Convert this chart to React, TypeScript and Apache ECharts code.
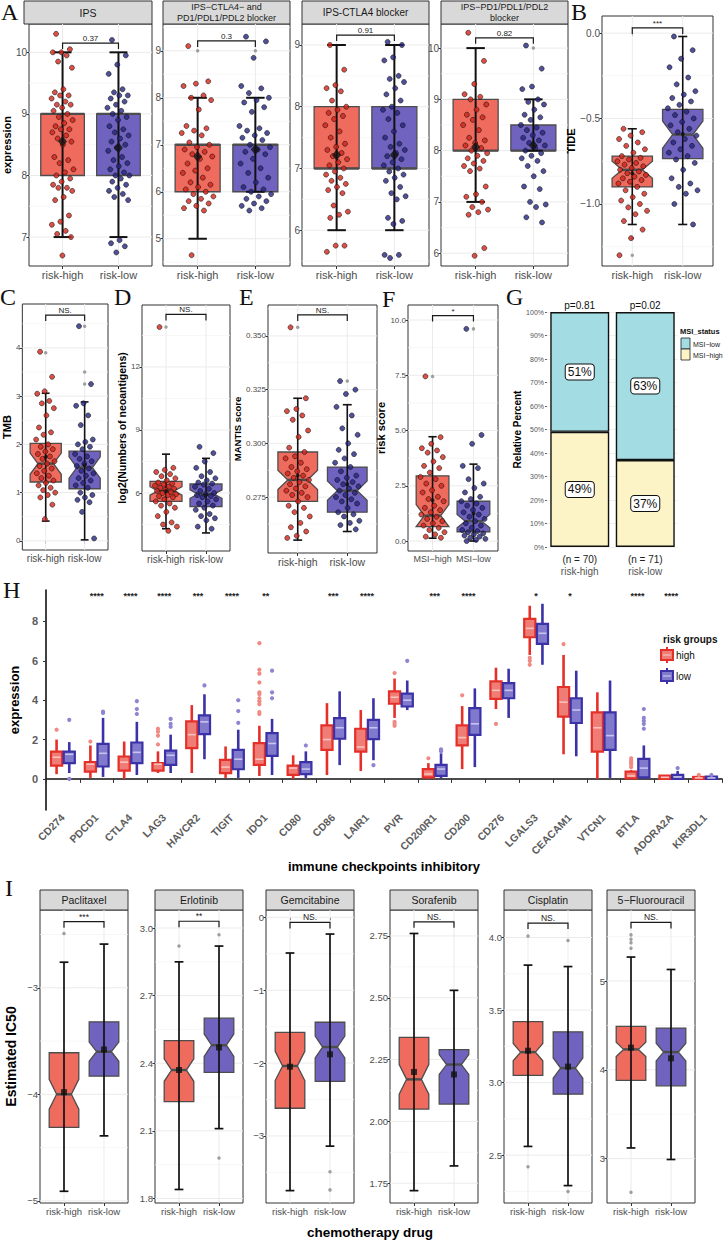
import React, { useEffect, useRef } from "react";
import * as echarts from "echarts";

const FONT = "'Liberation Sans', Arial, Helvetica, sans-serif";
const SERIF = "'Liberation Serif', 'Times New Roman', serif";

// ================= DATA =================
const RISK = ["risk-high", "risk-low"];
const MSI = ["MSI\u2212high", "MSI\u2212low"];

// ---- A: IPS panels ([min, q1, median, q3, max] for risk-high, risk-low) ----
const IPS_STATS = [[7, 8, 9, 9, 10], [7, 8, 9, 9, 10]];
const IPS_MEAN = [8.55, 8.45];
const IPS_OUT = [[], []];
const IPS_HIGH = [10.3, 10.05, 10.0, 10.0, 9.95, 9.85, 9.75, 9.4, 9.35, 9.3, 9.3, 9.25, 9.2, 9.15, 9.15, 9.1, 9.05, 9.0, 8.95, 8.9, 8.85, 8.8, 8.75, 8.75, 8.7, 8.65, 8.6, 8.55, 8.5, 8.3, 8.25, 8.2, 8.1, 8.05, 8.0, 7.95, 7.9, 7.85, 7.8, 7.8, 7.75, 7.65, 7.6, 7.35, 7.25, 7.2, 7.1, 7.05, 7.0, 6.7];
const IPS_LOW = [10.2, 9.95, 9.8, 9.65, 9.4, 9.35, 9.3, 9.3, 9.25, 9.2, 9.15, 9.1, 9.05, 9.0, 8.95, 8.9, 8.8, 8.75, 8.7, 8.65, 8.6, 8.55, 8.5, 8.45, 8.4, 8.3, 8.25, 8.2, 8.15, 8.1, 8.05, 8.0, 8.0, 7.95, 7.9, 7.85, 7.8, 7.75, 7.7, 7.65, 7.6, 6.95, 6.9, 6.85, 6.75];

const CTLA_PD_STATS = [[5, 6, 7, 7, 8], [6, 6, 7, 7, 8]];
const CTLA_PD_MEAN = [6.75, 6.9];
const CTLA_PD_OUT = [[9], [9]];
const CTLA_PD_HIGH = [9.1, 8.35, 8.3, 8.25, 8.05, 8.0, 7.95, 7.75, 7.4, 7.35, 7.3, 7.25, 7.2, 7.05, 7.0, 6.95, 6.9, 6.85, 6.8, 6.75, 6.7, 6.6, 6.5, 6.45, 6.4, 6.3, 6.2, 6.15, 6.1, 6.05, 6.0, 5.95, 5.9, 5.85, 5.8, 5.75, 5.7, 5.65, 5.6, 4.65];
const CTLA_PD_LOW = [9.3, 9.2, 8.85, 8.25, 8.2, 8.1, 8.0, 7.95, 7.9, 7.8, 7.7, 7.4, 7.35, 7.3, 7.25, 7.2, 7.15, 7.1, 7.0, 6.95, 6.9, 6.85, 6.8, 6.7, 6.6, 6.5, 6.4, 6.3, 6.2, 6.1, 6.05, 6.0, 5.95, 5.9, 5.85, 5.8, 5.75, 5.7, 5.65, 5.6];

const CTLA_STATS = [[6, 7, 7, 8, 9], [6, 7, 7, 8, 9]];
const CTLA_MEAN = [7.22, 7.22];
const CTLA_OUT = [[], []];
const CTLA_HIGH = [9.0, 8.6, 8.35, 8.3, 8.25, 8.1, 8.0, 7.95, 7.9, 7.85, 7.8, 7.7, 7.6, 7.5, 7.4, 7.35, 7.3, 7.25, 7.2, 7.15, 7.1, 7.05, 7.0, 6.95, 6.9, 6.85, 6.8, 6.75, 6.7, 6.65, 6.6, 6.4, 6.3, 6.25, 6.2, 5.75, 5.75, 5.65];
const CTLA_LOW = [9.05, 9.0, 8.8, 8.75, 8.5, 8.45, 8.4, 8.3, 8.2, 8.1, 8.0, 7.95, 7.9, 7.8, 7.7, 7.6, 7.5, 7.4, 7.35, 7.3, 7.25, 7.2, 7.15, 7.1, 7.05, 7.0, 6.95, 6.9, 6.85, 6.8, 6.7, 6.6, 6.55, 6.5, 6.2, 6.15, 6.1, 5.6, 5.6, 5.55];

const PD_STATS = [[7, 8, 8, 9, 10], [8, 8, 8, 8.5, 9]];
const PD_MEAN = [8.07, 8.1];
const PD_OUT = [[], [10]];
const PD_HIGH = [10.3, 9.75, 9.3, 9.1, 9.05, 9.0, 8.9, 8.8, 8.7, 8.65, 8.6, 8.5, 8.4, 8.25, 8.2, 8.15, 8.1, 8.05, 8.0, 7.95, 7.9, 7.85, 7.8, 7.75, 7.7, 7.65, 7.6, 7.3, 7.15, 7.1, 7.0, 6.9, 6.85, 6.8, 6.75, 6.1, 5.95];
const PD_LOW = [10.05, 9.6, 9.25, 9.2, 9.0, 8.95, 8.9, 8.8, 8.7, 8.65, 8.6, 8.5, 8.45, 8.4, 8.35, 8.3, 8.25, 8.2, 8.15, 8.1, 8.05, 8.0, 7.95, 7.9, 7.85, 7.8, 7.7, 7.6, 7.5, 7.3, 7.25, 7.0, 6.95, 6.9, 6.7, 6.6];

// ---- B: TIDE ----
const TIDE_STATS = [[-1.12, -0.9, -0.8, -0.72, -0.56], [-1.12, -0.735, -0.594, -0.447, -0.02]];
const TIDE_NOTCH = [0.05, 0.08];
const TIDE_MEAN = [-0.82, -0.59];
const TIDE_OUT = [[-1.2, -1.3], []];
const TIDE_HIGH = [-0.56, -0.58, -0.6, -0.62, -0.64, -0.66, -0.68, -0.7, -0.72, -0.73, -0.74, -0.75, -0.76, -0.77, -0.78, -0.79, -0.8, -0.81, -0.82, -0.83, -0.84, -0.85, -0.86, -0.87, -0.88, -0.9, -0.92, -0.94, -0.96, -0.98, -1.0, -1.02, -1.04, -1.06, -1.1, -1.15, -1.2, -1.3];
const TIDE_LOW = [-0.02, -0.1, -0.15, -0.2, -0.26, -0.3, -0.34, -0.36, -0.38, -0.4, -0.42, -0.44, -0.46, -0.48, -0.5, -0.52, -0.54, -0.56, -0.58, -0.6, -0.62, -0.64, -0.66, -0.68, -0.7, -0.72, -0.74, -0.76, -0.8, -0.85, -0.88, -0.9, -0.92, -0.94, -1.0, -1.12];

// ---- C: TMB ----
const TMB_STATS = [[0.41, 1.22, 1.6, 2.02, 3.06], [0.02, 1.08, 1.52, 1.86, 2.88]];
const TMB_NOTCH = [0.22, 0.22];
const TMB_MEAN = [1.74, 1.57];
const TMB_OUT = [[3.9], [4.45, 3.5, 3.25]];
const TMB_HIGH = [3.92, 3.4, 3.1, 3.05, 2.9, 2.85, 2.75, 2.6, 2.35, 2.25, 2.2, 2.1, 2.0, 1.95, 1.9, 1.85, 1.8, 1.75, 1.7, 1.65, 1.6, 1.55, 1.5, 1.45, 1.4, 1.35, 1.3, 1.25, 1.2, 1.15, 1.1, 1.05, 1.0, 0.95, 0.9, 0.75, 0.45];
const TMB_LOW = [4.45, 3.25, 2.85, 2.8, 2.6, 2.4, 2.1, 2.05, 2.0, 1.95, 1.9, 1.8, 1.75, 1.7, 1.65, 1.6, 1.55, 1.5, 1.45, 1.4, 1.35, 1.3, 1.25, 1.2, 1.15, 1.1, 1.0, 0.95, 0.9, 0.85, 0.8, 0.6, 0.05];

// ---- D: neoantigens ----
const NEO_STATS = [[4.3, 5.6, 6.1, 6.55, 7.85], [4.1, 5.35, 5.95, 6.43, 7.65]];
const NEO_NOTCH = [0.2, 0.2];
const NEO_MEAN = [6.1, 5.9];
const NEO_OUT = [[13.9], []];
const NEO_HIGH = [13.9, 7.2, 7.1, 7.0, 6.9, 6.8, 6.7, 6.6, 6.5, 6.45, 6.4, 6.35, 6.3, 6.25, 6.2, 6.15, 6.1, 6.05, 6.0, 5.95, 5.9, 5.85, 5.8, 5.7, 5.6, 5.5, 5.4, 5.3, 5.1, 4.9, 4.6, 4.5, 4.4, 4.2];
const NEO_LOW = [8.2, 7.9, 7.5, 7.2, 7.0, 6.8, 6.7, 6.6, 6.5, 6.45, 6.4, 6.3, 6.2, 6.1, 6.0, 5.95, 5.9, 5.85, 5.8, 5.7, 5.6, 5.5, 5.4, 5.3, 5.2, 5.0, 4.9, 4.8, 4.7, 4.4, 4.3];

// ---- E: MANTIS ----
const MANTIS_STATS = [[0.255, 0.273, 0.283, 0.296, 0.321], [0.259, 0.268, 0.278, 0.289, 0.318]];
const MANTIS_NOTCH = [0.0045, 0.0045];
const MANTIS_MEAN = [0.285, 0.281];
const MANTIS_OUT = [[0.354], [0.329]];
const MANTIS_HIGH = [0.354, 0.321, 0.316, 0.315, 0.313, 0.311, 0.306, 0.303, 0.298, 0.296, 0.294, 0.293, 0.291, 0.289, 0.288, 0.287, 0.286, 0.285, 0.284, 0.283, 0.282, 0.281, 0.28, 0.279, 0.278, 0.277, 0.276, 0.275, 0.273, 0.271, 0.27, 0.268, 0.266, 0.263, 0.261, 0.259, 0.257, 0.256];
const MANTIS_LOW = [0.329, 0.325, 0.323, 0.317, 0.313, 0.307, 0.304, 0.3, 0.297, 0.295, 0.293, 0.291, 0.289, 0.287, 0.285, 0.284, 0.283, 0.282, 0.281, 0.28, 0.279, 0.278, 0.277, 0.276, 0.275, 0.274, 0.273, 0.272, 0.27, 0.268, 0.267, 0.266, 0.264, 0.263, 0.262, 0.26];

// ---- F: risk score by MSI ----
const RS_STATS = [[0.13, 0.65, 1.15, 2.95, 4.72], [0, 0.42, 0.9, 1.8, 3.48]];
const RS_NOTCH = [0.5, 0.3];
const RS_MEAN = [1.85, 1.25];
const RS_OUT = [[7.45], [9.6]];
const RS_HIGH = [7.45, 4.7, 4.4, 4.2, 4.1, 4.0, 3.8, 3.6, 3.4, 3.3, 3.1, 2.9, 2.8, 2.6, 2.5, 2.3, 2.2, 2.0, 1.9, 1.8, 1.6, 1.5, 1.4, 1.3, 1.2, 1.1, 1.0, 0.9, 0.8, 0.7, 0.6, 0.5, 0.4, 0.3, 0.2, 0.15];
const RS_LOW = [9.6, 4.8, 4.4, 3.4, 3.3, 2.8, 2.6, 2.4, 2.2, 2.0, 1.9, 1.8, 1.7, 1.6, 1.5, 1.4, 1.3, 1.2, 1.1, 1.0, 0.9, 0.8, 0.7, 0.6, 0.5, 0.45, 0.4, 0.35, 0.3, 0.25, 0.2, 0.15, 0.1, 0.05, 0.0];

// ---- G: MSI status share ----
const G_N = ["(n = 70)", "(n = 71)"];
const G_MSI_HIGH = [0.49, 0.37];
const G_MSI_LOW = [0.51, 0.63];
const G_P = ["p=0.81", "p=0.02"];

// ---- H: immune checkpoints ----
const GENES = ["CD274", "PDCD1", "CTLA4", "LAG3", "HAVCR2", "TIGIT", "IDO1", "CD80", "CD86", "LAIR1", "PVR", "CD200R1", "CD200", "CD276", "LGALS3", "CEACAM1", "VTCN1", "BTLA", "ADORA2A", "KIR3DL1"];
const H_SIG = ["", "****", "****", "****", "***", "****", "**", "", "***", "****", "", "***", "****", "", "*", "*", "", "****", "****", ""];
const H_HIGH = [
  [0.24, 0.68, 1.1, 1.39, 2.0], [0.05, 0.37, 0.75, 0.85, 1.7], [0.0, 0.42, 0.85, 1.14, 1.9], [0.3, 0.42, 0.75, 0.8, 1.4],
  [0.3, 1.56, 2.25, 2.92, 3.75], [0.05, 0.29, 0.6, 0.97, 1.65], [0.15, 0.71, 1.0, 1.82, 2.7], [0.0, 0.2, 0.55, 0.68, 1.2],
  [0.2, 1.48, 2.0, 2.72, 3.85], [0.4, 1.39, 1.62, 2.55, 3.5], [3.1, 3.82, 4.15, 4.45, 5.1], [0.0, 0.08, 0.25, 0.5, 0.8],
  [0.5, 1.7, 2.1, 2.72, 3.7], [3.55, 4.07, 4.5, 4.96, 5.65], [6.3, 7.2, 7.65, 8.13, 8.8], [1.25, 3.17, 3.9, 4.67, 6.3],
  [0.0, 1.39, 2.6, 3.38, 4.4], [0.0, 0.03, 0.15, 0.37, 0.45], [0.0, 0.0, 0.08, 0.17, 0.2], [0.0, 0.0, 0.05, 0.1, 0.12],
];
const H_LOW = [
  [0.3, 0.8, 1.25, 1.39, 1.87], [0.1, 0.63, 1.3, 1.78, 3.1], [0.2, 0.8, 1.35, 1.85, 2.9], [0.3, 0.71, 1.2, 1.44, 2.25],
  [1.0, 2.28, 2.9, 3.23, 4.3], [0.05, 0.49, 1.0, 1.48, 2.5], [0.2, 1.17, 1.8, 2.33, 3.05], [0.05, 0.24, 0.5, 0.85, 1.4],
  [0.7, 2.04, 2.6, 3.09, 4.45], [0.95, 2.02, 2.6, 3.0, 4.1], [3.5, 3.68, 4.0, 4.33, 5.0], [0.03, 0.15, 0.5, 0.71, 1.3],
  [0.6, 2.24, 2.8, 3.6, 4.6], [3.1, 4.1, 4.5, 4.87, 5.6], [5.8, 6.86, 7.4, 7.88, 8.9], [1.15, 2.84, 3.5, 4.1, 5.5],
  [0.05, 1.48, 2.2, 3.38, 5.0], [0.0, 0.08, 0.55, 1.02, 1.7], [0.0, 0.0, 0.1, 0.2, 0.4], [0.0, 0.0, 0.05, 0.12, 0.15],
];
const H_HIGH_OUT = [[2.5], [1.9], [], [1.75, 2.2, 2.4, 2.55], [], [], [3.3, 3.4, 3.8, 3.95, 4.1, 4.3, 4.4, 4.9, 5.35, 5.55, 6.9], [], [], [], [5.38, 2.9, 2.8, 2.7], [1.05], [4.25], [2.8], [6.15, 6.0, 5.8], [6.85], [], [0.6, 0.75, 0.85, 0.95, 1.05], [], [0.2]];
const H_LOW_OUT = [[3.0, 0.0], [3.35, 3.42], [3.3, 3.55, 3.95], [2.65, 2.8, 3.05], [4.75], [2.85, 3.45, 4.0], [4.1, 4.4, 5.5], [1.7], [], [0.7], [6.0], [1.4, 1.5], [], [], [], [], [], [2.55, 2.8, 2.95, 3.1, 3.55], [0.55], [0.2]];

// ---- I: drug sensitivity ----
const DRUGS = ["Paclitaxel", "Erlotinib", "Gemcitabine", "Sorafenib", "Cisplatin", "5\u2212Fluorouracil"];
const DRUG_SIG = ["***", "**", "NS.", "NS.", "NS.", "NS."];
const DRUG_STATS = [
  [[-4.91, -4.31, -4.0, -3.61, -2.76], [-4.39, -3.83, -3.6, -3.32, -2.59]],
  [[1.84, 2.23, 2.37, 2.5, 2.85], [2.11, 2.36, 2.48, 2.6, 2.92]],
  [[-3.75, -2.62, -2.04, -1.58, -0.49], [-3.14, -2.25, -1.78, -1.44, -0.23]],
  [[1.72, 2.05, 2.17, 2.34, 2.76], [1.82, 2.07, 2.23, 2.29, 2.53]],
  [[2.56, 3.05, 3.21, 3.42, 3.81], [2.29, 2.92, 3.1, 3.35, 3.8]],
  [[3.12, 3.88, 4.23, 4.49, 5.27], [2.99, 3.82, 4.2, 4.47, 5.13]],
];
const DRUG_NOTCH = [[0.14, 0.09], [0.05, 0.05], [0.2, 0.15], [0.06, 0.04], [0.06, 0.07], [0.08, 0.1]];
const DRUG_MEAN = [[-3.98, -3.58], [2.37, 2.47], [-2.05, -1.88], [2.2, 2.19], [3.22, 3.11], [4.25, 4.13]];
const DRUG_OUT = [[[-2.49], []], [[2.92], [2.97, 1.98]], [[], [-3.49, -3.74]], [[], []], [[4.01, 2.42], [3.98, 2.25]], [[5.52, 5.47, 5.43, 5.37, 2.62], []]];
const DRUG_BRACKET = [-2.38, 3.03, -0.07, 2.807, 4.1, 5.66];
const DRUG_YMIN = [-5.02, 1.78, -3.92, 1.67, 2.17, 2.5];
const DRUG_YMAX = [-2.27, 3.08, 0.1, 2.855, 4.19, 5.8];
const DRUG_TICKS = [[-5, -4, -3], [1.8, 2.1, 2.4, 2.7, 3.0], [-3, -2, -1, 0], [1.75, 2.0, 2.25, 2.5, 2.75], [2.5, 3.0, 3.5, 4.0], [3, 4, 5]];
const DRUG_DEC = [0, 1, 0, 2, 1, 0];

// ================= STYLE =================
const RED_FILL = "#ee6b5e";
const BLUE_FILL = "#6f63bf";
const RED_PT = "#d3241a";
const BLUE_PT = "#25267f";
const EDGE = "#4d4d4d";
const H_RED = "#e5302a";
const H_RED_L = "#ef7d75";
const H_RED_M = "#f7c3be";
const H_BLUE = "#3a32a6";
const H_BLUE_L = "#8179cc";
const H_BLUE_M = "#c8c4ec";
const MSI_LOW_C = "#a3dde3";
const MSI_HIGH_C = "#fcf4c6";

const fmtNum = (v: number, dec: number) => v.toFixed(dec).replace("-", "\u2212");
const jit = (k: number) => ((k * 0.6180339887 + 0.21) % 1) - 0.5;

type Panel = {
  rect: number[];
  yMin: number; yMax: number; ticks: number[]; dec: number;
  cats: string[]; stats: number[][]; means: number[]; notch: number[] | null;
  ptsH: number[] | null; ptsL: number[] | null; outl: number[][];
  bracket: number; bLabel: string; kind: string; jw: number;
  yName?: string; nameGap?: number; nameSize?: number;
  tickSize: number; catSize: number; strip?: string; stripSize?: number; stripH?: number;
  boxW: number; capW: number; wLW: number;
};

function buildOption() {
  const A = (rect, yMin, yMax, ticks, stats, means, outl, ptsH, ptsL, bracket, bLabel, strip, stripSize, jw, extra = {}) => ({
    rect, yMin, yMax, ticks, dec: 0, cats: RISK, stats, means, notch: null, ptsH, ptsL, outl, bracket, bLabel,
    kind: "A", jw, tickSize: 10, catSize: 11, strip, stripSize, stripH: 23, boxW: 0.78, capW: 0.32, wLW: 2, ...extra,
  });
  const panels: Panel[] = [
    A([24, 24, 128, 242], 6.53, 10.46, [7, 8, 9, 10], IPS_STATS, IPS_MEAN, IPS_OUT, IPS_HIGH, IPS_LOW, 10.15, "0.37", "IPS", 10.5, 0.2,
      { yName: "expression", nameGap: 11, nameSize: 11 }),
    A([163, 24, 127, 242], 4.42, 9.57, [5, 6, 7, 8, 9], CTLA_PD_STATS, CTLA_PD_MEAN, CTLA_PD_OUT, CTLA_PD_HIGH, CTLA_PD_LOW, 9.21, "0.3",
      "IPS\u2212CTLA4\u2212 and\nPD1/PDL1/PDL2 blocker", 9, 0.28),
    A([302, 24, 127, 242], 5.42, 9.34, [6, 7, 8, 9], CTLA_STATS, CTLA_MEAN, CTLA_OUT, CTLA_HIGH, CTLA_LOW, 9.16, "0.91", "IPS-CTLA4 blocker", 10, 0.2),
    A([441, 24, 127, 242], 5.75, 10.47, [6, 7, 8, 9, 10], PD_STATS, PD_MEAN, PD_OUT, PD_HIGH, PD_LOW, 10.2, "0.82",
      "IPS\u2212PD1/PDL1/PDL2\nblocker", 9, 0.22),
    {
      rect: [602, 16, 111, 250], yMin: -1.363, yMax: 0.1, ticks: [-1.0, -0.5, 0.0], dec: 1, cats: RISK,
      stats: TIDE_STATS, means: TIDE_MEAN, notch: TIDE_NOTCH, ptsH: TIDE_HIGH, ptsL: TIDE_LOW, outl: TIDE_OUT,
      bracket: 0.03, bLabel: "***", kind: "N", jw: 0.3, yName: "TIDE", nameGap: 14, nameSize: 11,
      tickSize: 10, catSize: 11, boxW: 0.8, capW: 0.18, wLW: 1.6,
    },
    {
      rect: [18, 304, 90, 246], yMin: -0.19, yMax: 4.91, ticks: [0, 1, 2, 3, 4], dec: 0, cats: RISK,
      stats: TMB_STATS, means: TMB_MEAN, notch: TMB_NOTCH, ptsH: TMB_HIGH, ptsL: TMB_LOW, outl: TMB_OUT,
      bracket: 4.68, bLabel: "NS.", kind: "N", jw: 0.25, yName: "TMB", nameGap: 3, nameSize: 11,
      tickSize: 8, catSize: 10, boxW: 0.8, capW: 0.2, wLW: 1.6,
    },
    {
      rect: [142, 305, 88, 246], yMin: 3.24, yMax: 14.95, ticks: [6, 9, 12], dec: 0, cats: RISK,
      stats: NEO_STATS, means: NEO_MEAN, notch: NEO_NOTCH, ptsH: NEO_HIGH, ptsL: NEO_LOW, outl: NEO_OUT,
      bracket: 14.5, bLabel: "NS.", kind: "N", jw: 0.28, yName: "log2(Numbers of neoantigens)", nameGap: 13, nameSize: 10.5,
      tickSize: 8, catSize: 10, boxW: 0.8, capW: 0.2, wLW: 1.6,
    },
    {
      rect: [268, 305, 109, 248], yMin: 0.249, yMax: 0.3644, ticks: [0.275, 0.3, 0.325, 0.35], dec: 3, cats: RISK,
      stats: MANTIS_STATS, means: MANTIS_MEAN, notch: MANTIS_NOTCH, ptsH: MANTIS_HIGH, ptsL: MANTIS_LOW, outl: MANTIS_OUT,
      bracket: 0.3598, bLabel: "NS.", kind: "N", jw: 0.25, yName: "MANTIS score", nameGap: 24, nameSize: 9.5,
      tickSize: 8, catSize: 10.5, boxW: 0.8, capW: 0.18, wLW: 1.6,
    },
    {
      rect: [408, 305, 90, 246], yMin: -0.45, yMax: 10.68, ticks: [0, 2.5, 5, 7.5, 10], dec: 1, cats: MSI,
      stats: RS_STATS, means: RS_MEAN, notch: RS_NOTCH, ptsH: RS_HIGH, ptsL: RS_LOW, outl: RS_OUT,
      bracket: 10.2, bLabel: "*", kind: "N", jw: 0.3, yName: "risk score", nameGap: 14, nameSize: 11,
      tickSize: 8, catSize: 9, boxW: 0.8, capW: 0.2, wLW: 1.6,
    },
  ];
  const iRects = [[40, 910, 88, 293], [155, 910, 88, 293], [266, 910, 88, 293], [390, 910, 88, 293], [504, 910, 88, 293], [607, 910, 88, 293]];
  DRUGS.forEach((d, k) => {
    panels.push({
      rect: iRects[k], yMin: DRUG_YMIN[k], yMax: DRUG_YMAX[k], ticks: DRUG_TICKS[k], dec: DRUG_DEC[k], cats: RISK,
      stats: DRUG_STATS[k], means: DRUG_MEAN[k], notch: DRUG_NOTCH[k], ptsH: null, ptsL: null, outl: DRUG_OUT[k],
      bracket: DRUG_BRACKET[k], bLabel: DRUG_SIG[k], kind: "I", jw: 0,
      yName: k === 0 ? "Estimated IC50" : undefined, nameGap: 22, nameSize: 14,
      tickSize: 9.5, catSize: 9.5, strip: d, stripSize: 10.5, stripH: 20, boxW: 0.74, capW: 0.22, wLW: 1.7,
    });
  });

  const grid: any[] = [], xAxis: any[] = [], yAxis: any[] = [], series: any[] = [], graphic: any[] = [];

  panels.forEach((p, gi) => {
    const [l, t, w, h] = p.rect;
    grid.push({ left: l, top: t, width: w, height: h, show: true, borderColor: "#333", borderWidth: 1, backgroundColor: "#fff" });
    xAxis.push({
      gridIndex: gi, type: "value", min: 0.4, max: 2.6,
      axisLine: { show: false }, splitLine: { show: false },
      axisTick: { show: true, customValues: [1, 2], length: 3, lineStyle: { color: "#333" } },
      axisLabel: { customValues: [1, 2], hideOverlap: false, formatter: (v: number) => p.cats[Math.round(v) - 1], color: "#4d4d4d", fontSize: p.catSize, margin: 3, fontFamily: FONT },
    });
    yAxis.push({
      gridIndex: gi, type: "value", min: p.yMin, max: p.yMax,
      axisLine: { show: false }, splitLine: { show: false },
      axisTick: { show: true, customValues: p.ticks, length: 2.5, lineStyle: { color: "#333" } },
      axisLabel: { customValues: p.ticks, formatter: (v: number) => fmtNum(v, p.dec), color: "#4d4d4d", fontSize: p.tickSize, margin: 2, fontFamily: FONT },
      name: p.yName || "", nameLocation: "middle", nameGap: p.nameGap,
      nameTextStyle: { fontWeight: "bold", fontSize: p.nameSize, color: "#000", fontFamily: FONT },
    });
    // background grid + bracket
    series.push({
      type: "custom", xAxisIndex: gi, yAxisIndex: gi, z: 1, silent: true, data: [[1, p.yMin]],
      renderItem: (params: any, api: any) => {
        const cs = params.coordSys;
        const ch: any[] = [];
        const step = p.ticks[1] - p.ticks[0];
        for (let k = -1; k < p.ticks.length + 1; k++) {
          const v = p.ticks[0] + step * (k + 0.5);
          if (v > p.yMin && v < p.yMax) {
            const y = api.coord([1, v])[1];
            ch.push({ type: "line", shape: { x1: cs.x, y1: y, x2: cs.x + cs.width, y2: y }, style: { stroke: "#f4f4f4", lineWidth: 0.7 } });
          }
        }
        p.ticks.forEach((v) => {
          const y = api.coord([1, v])[1];
          ch.push({ type: "line", shape: { x1: cs.x, y1: y, x2: cs.x + cs.width, y2: y }, style: { stroke: "#ebebeb", lineWidth: 1 } });
        });
        [1, 2].forEach((c) => {
          const x = api.coord([c, p.yMin])[0];
          ch.push({ type: "line", shape: { x1: x, y1: cs.y, x2: x, y2: cs.y + cs.height }, style: { stroke: "#ebebeb", lineWidth: 1 } });
        });
        const x1 = api.coord([1, p.bracket])[0];
        const x2 = api.coord([2, p.bracket])[0];
        const yb = api.coord([1, p.bracket])[1];
        ch.push({ type: "polyline", shape: { points: [[x1, yb + 6], [x1, yb], [x2, yb], [x2, yb + 6]] }, style: { stroke: "#1a1a1a", lineWidth: 1.2, fill: null } });
        ch.push({ type: "text", x: (x1 + x2) / 2, y: yb - 0.5, style: { text: p.bLabel, fontSize: p.kind === "I" ? 8.5 : 8, fill: "#1a1a1a", align: "center", verticalAlign: "bottom", fontFamily: FONT } });
        return { type: "group", children: ch };
      },
    });
    // boxes + whiskers
    series.push({
      type: "custom", xAxisIndex: gi, yAxisIndex: gi, z: 2, silent: true,
      data: p.stats.map((s, i) => [i + 1, ...s]),
      renderItem: (params: any, api: any) => {
        const i = params.dataIndex;
        const s = p.stats[i];
        const xc = i + 1;
        const unit = api.size([1, 0])[0];
        const cx = api.coord([xc, s[2]])[0];
        const Y = (v: number) => api.coord([xc, v])[1];
        const hw = (unit * p.boxW) / 2;
        const fill = i === 0 ? RED_FILL : BLUE_FILL;
        const ch: any[] = [];
        let mh = hw;
        if (p.notch) {
          const n = p.notch[i];
          const hi = Math.min(s[2] + n, s[3]);
          const lo = Math.max(s[2] - n, s[1]);
          mh = hw * 0.5;
          ch.push({
            type: "polygon",
            shape: { points: [[cx - hw, Y(s[3])], [cx + hw, Y(s[3])], [cx + hw, Y(hi)], [cx + mh, Y(s[2])], [cx + hw, Y(lo)], [cx + hw, Y(s[1])], [cx - hw, Y(s[1])], [cx - hw, Y(lo)], [cx - mh, Y(s[2])], [cx - hw, Y(hi)]] },
            style: { fill, stroke: EDGE, lineWidth: 1.3 },
          });
        } else {
          ch.push({ type: "rect", shape: { x: cx - hw, y: Y(s[3]), width: 2 * hw, height: Y(s[1]) - Y(s[3]) }, style: { fill, stroke: EDGE, lineWidth: 1.3 } });
        }
        ch.push({ type: "line", shape: { x1: cx - mh, y1: Y(s[2]), x2: cx + mh, y2: Y(s[2]) }, style: { stroke: EDGE, lineWidth: 2.4 } });
        const cw = (unit * p.capW) / 2;
        ch.push({ type: "line", shape: { x1: cx, y1: Y(s[0]), x2: cx, y2: Y(s[4]) }, style: { stroke: "#111", lineWidth: p.wLW } });
        ch.push({ type: "line", shape: { x1: cx - cw, y1: Y(s[0]), x2: cx + cw, y2: Y(s[0]) }, style: { stroke: "#111", lineWidth: p.wLW } });
        ch.push({ type: "line", shape: { x1: cx - cw, y1: Y(s[4]), x2: cx + cw, y2: Y(s[4]) }, style: { stroke: "#111", lineWidth: p.wLW } });
        return { type: "group", children: ch };
      },
    });
    // grey outliers
    const outData: number[][] = [];
    p.outl.forEach((arr, i) => arr.forEach((v) => outData.push([i + 1, v])));
    series.push({ type: "scatter", xAxisIndex: gi, yAxisIndex: gi, z: 3, silent: true, symbolSize: 3.5, itemStyle: { color: "#8a8a8a" }, data: outData });
    // jittered points
    if (p.ptsH && p.ptsL) {
      [p.ptsH, p.ptsL].forEach((arr, i) => {
        series.push({
          type: "scatter", xAxisIndex: gi, yAxisIndex: gi, z: 4, silent: true,
          symbolSize: 5,
          itemStyle: { color: i === 0 ? RED_PT : BLUE_PT, borderColor: "#111", borderWidth: 0.7 },
          data: arr.map((v, k) => [i + 1 + jit(k) * 2 * p.jw, v]),
        });
      });
    }
    // means
    series.push({
      type: "scatter", xAxisIndex: gi, yAxisIndex: gi, z: 5, silent: true,
      symbol: p.kind === "A" ? "diamond" : p.kind === "I" ? "rect" : "circle",
      symbolSize: p.kind === "A" ? [9, 11] : p.kind === "I" ? 6 : 4,
      itemStyle: { color: "#111" },
      data: p.means.map((m, i) => [i + 1, m]),
    });
    // strips
    if (p.strip) {
      const sh = p.stripH || 23;
      graphic.push({ type: "rect", shape: { x: l, y: t - sh, width: w, height: sh }, style: { fill: "#d9d9d9", stroke: "#333", lineWidth: 1 } });
      graphic.push({
        type: "text", x: l + w / 2, y: t - sh / 2,
        style: { text: p.strip, fontSize: p.stripSize, fontFamily: FONT, fill: "#1a1a1a", align: "center", verticalAlign: "middle", lineHeight: (p.stripSize || 10) + 1.5 },
      });
    }
  });

  // ---------- H ----------
  const hi = panels.length;
  grid.push({ left: 33, top: 590, width: 689, height: 220, show: false });
  xAxis.push({
    gridIndex: hi, type: "category", data: GENES,
    axisLine: { show: true, lineStyle: { color: "#111", width: 1.6 } },
    axisTick: { show: true, length: 4, lineStyle: { color: "#333" } },
    axisLabel: { rotate: 45, fontSize: 10.5, fontWeight: "bold", color: "#5c5c5c", margin: 6, interval: 0, hideOverlap: false, fontFamily: FONT },
    splitLine: { show: false },
    name: "immune checkpoints inhibitory", nameLocation: "middle", nameGap: 48,
    nameTextStyle: { fontWeight: "bold", fontSize: 13, color: "#000", fontFamily: FONT },
  });
  yAxis.push({
    gridIndex: hi, type: "value", min: -1.58, max: 9.6,
    axisLine: { show: true, lineStyle: { color: "#111", width: 1.6 } },
    axisTick: { show: true, customValues: [0, 2, 4, 6, 8], length: 3, lineStyle: { color: "#333" } },
    axisLabel: { customValues: [0, 2, 4, 6, 8], fontSize: 11, fontWeight: "bold", color: "#5c5c5c", margin: 8, fontFamily: FONT },
    splitLine: { show: false },
    name: "expression", nameLocation: "middle", nameGap: 18,
    nameTextStyle: { fontWeight: "bold", fontSize: 13, color: "#000", fontFamily: FONT },
  });
  const hBoxData: number[][] = [];
  GENES.forEach((g, ci) => {
    hBoxData.push([ci, 0, ...H_HIGH[ci]]);
    hBoxData.push([ci, 1, ...H_LOW[ci]]);
  });
  series.push({
    type: "custom", xAxisIndex: hi, yAxisIndex: hi, z: 2, silent: true, data: hBoxData,
    encode: { x: 0, y: [2, 3, 4, 5, 6] },
    renderItem: (params: any, api: any) => {
      const ci = api.value(0), g = api.value(1);
      const s = [api.value(2), api.value(3), api.value(4), api.value(5), api.value(6)];
      const bw = api.size([1, 0])[0];
      const cx = api.coord([ci, 0])[0] + (g === 0 ? -1 : 1) * bw * 0.1875;
      const hw = bw * 0.165;
      const Y = (v: number) => api.coord([ci, v])[1];
      const strong = g === 0 ? H_RED : H_BLUE;
      const light = g === 0 ? H_RED_L : H_BLUE_L;
      const mid = g === 0 ? H_RED_M : H_BLUE_M;
      return {
        type: "group",
        children: [
          { type: "line", shape: { x1: cx, y1: Y(s[0]), x2: cx, y2: Y(s[1]) }, style: { stroke: strong, lineWidth: 2.6 } },
          { type: "line", shape: { x1: cx, y1: Y(s[3]), x2: cx, y2: Y(s[4]) }, style: { stroke: strong, lineWidth: 2.6 } },
          { type: "rect", shape: { x: cx - hw, y: Y(s[3]), width: 2 * hw, height: Math.max(Y(s[1]) - Y(s[3]), 1) }, style: { fill: light, stroke: strong, lineWidth: 2.2 } },
          { type: "line", shape: { x1: cx - hw + 1.5, y1: Y(s[2]), x2: cx + hw - 1.5, y2: Y(s[2]) }, style: { stroke: mid, lineWidth: 1.6 } },
        ],
      };
    },
  });
  const hOut: number[][] = [];
  GENES.forEach((g, ci) => {
    H_HIGH_OUT[ci].forEach((v) => hOut.push([ci, 0, v]));
    H_LOW_OUT[ci].forEach((v) => hOut.push([ci, 1, v]));
  });
  series.push({
    type: "custom", xAxisIndex: hi, yAxisIndex: hi, z: 3, silent: true, data: hOut,
    encode: { x: 0, y: 2 },
    renderItem: (params: any, api: any) => {
      const ci = api.value(0), g = api.value(1), v = api.value(2);
      const bw = api.size([1, 0])[0];
      const pt = api.coord([ci, v]);
      return { type: "circle", shape: { cx: pt[0] + (g === 0 ? -1 : 1) * bw * 0.1875, cy: pt[1], r: 2.1 }, style: { fill: g === 0 ? "#f08a84" : "#8d86d2" } };
    },
  });
  series.push({
    type: "custom", xAxisIndex: hi, yAxisIndex: hi, z: 3, silent: true,
    data: GENES.map((g, ci) => [ci, 9.3]),
    renderItem: (params: any, api: any) => {
      const ci = api.value(0);
      const pt = api.coord([ci, 9.3]);
      return { type: "text", x: pt[0], y: pt[1], style: { text: H_SIG[ci], fontSize: 9, fontWeight: "bold", fill: "#222", align: "center", verticalAlign: "middle", fontFamily: FONT } };
    },
  });

  // ---------- G ----------
  const gg = hi + 1;
  grid.push({ left: 547, top: 312, width: 131, height: 235, show: false });
  xAxis.push({
    gridIndex: gg, type: "category", data: RISK,
    axisLine: { show: false }, axisTick: { show: false },
    axisLabel: {
      interval: 0, margin: 6,
      formatter: (v: string, i: number) => `{n|${G_N[i]}}\n{c|${v}}`,
      rich: { n: { fontSize: 10, color: "#222", fontFamily: FONT, lineHeight: 12 }, c: { fontSize: 10, color: "#555", fontFamily: FONT, lineHeight: 12 } },
    },
  });
  yAxis.push({
    gridIndex: gg, type: "value", min: 0, max: 1, interval: 0.1,
    axisLine: { show: false },
    axisTick: { show: true, length: 2, lineStyle: { color: "#666" } },
    axisLabel: { formatter: (v: number) => `${Math.round(v * 100)}%`, fontSize: 7, color: "#555", margin: 3, fontFamily: FONT },
    splitLine: { show: true, lineStyle: { color: "#eeeeee", width: 0.8 } },
    name: "Relative Percent", nameLocation: "middle", nameGap: 24,
    nameTextStyle: { fontWeight: "bold", fontSize: 10, color: "#000", fontFamily: FONT },
  });
  const gLabel = {
    show: true, position: "inside", formatter: (pp: any) => `${Math.round(pp.value * 100)}%`,
    backgroundColor: "#fff", borderColor: "#111", borderWidth: 1, borderRadius: 3, padding: [2, 2, 1, 2],
    fontSize: 12, color: "#111", fontFamily: FONT,
  };
  series.push({
    type: "bar", name: "MSI\u2212high", xAxisIndex: gg, yAxisIndex: gg, stack: "msi", barWidth: "90%", silent: true,
    itemStyle: { color: MSI_HIGH_C, borderColor: "#111", borderWidth: 1.4 }, label: gLabel, data: G_MSI_HIGH,
  });
  series.push({
    type: "bar", name: "MSI\u2212low", xAxisIndex: gg, yAxisIndex: gg, stack: "msi", barWidth: "90%", silent: true,
    itemStyle: { color: MSI_LOW_C, borderColor: "#111", borderWidth: 1.4 }, label: gLabel, data: G_MSI_LOW,
  });
  series.push({
    type: "custom", xAxisIndex: gg, yAxisIndex: gg, z: 5, silent: true, data: G_P.map((p, i) => [i, 1]),
    renderItem: (params: any, api: any) => {
      const i = params.dataIndex;
      const pt = api.coord([i, 1]);
      return { type: "text", x: pt[0], y: pt[1] - 2, style: { text: G_P[i], fontSize: 10, fill: "#111", align: "center", verticalAlign: "bottom", fontFamily: FONT } };
    },
  });

  // ---------- legends, letters, titles ----------
  graphic.push({ type: "text", x: 680, y: 331, style: { text: "MSI_status", fontSize: 7.5, fontWeight: "bold", fill: "#111", verticalAlign: "middle", fontFamily: FONT } });
  graphic.push({ type: "rect", shape: { x: 681, y: 338, width: 9, height: 11 }, style: { fill: MSI_LOW_C, stroke: "#222", lineWidth: 0.8 } });
  graphic.push({ type: "rect", shape: { x: 681, y: 349, width: 9, height: 11 }, style: { fill: MSI_HIGH_C, stroke: "#222", lineWidth: 0.8 } });
  graphic.push({ type: "text", x: 693, y: 344, style: { text: "MSI\u2212low", fontSize: 7, fill: "#222", verticalAlign: "middle", fontFamily: FONT } });
  graphic.push({ type: "text", x: 693, y: 355, style: { text: "MSI\u2212high", fontSize: 7, fill: "#222", verticalAlign: "middle", fontFamily: FONT } });

  graphic.push({ type: "text", x: 663, y: 639, style: { text: "risk groups", fontSize: 10, fontWeight: "bold", fill: "#111", verticalAlign: "middle", fontFamily: FONT } });
  [[H_RED, H_RED_L, H_RED_M, "high", 655], [H_BLUE, H_BLUE_L, H_BLUE_M, "low", 676]].forEach(([c, l, m, txt, y]: any) => {
    graphic.push({ type: "line", shape: { x1: 667, y1: y - 8, x2: 667, y2: y + 8 }, style: { stroke: c, lineWidth: 2 } });
    graphic.push({ type: "rect", shape: { x: 661, y: y - 5, width: 12, height: 10 }, style: { fill: l, stroke: c, lineWidth: 2 } });
    graphic.push({ type: "line", shape: { x1: 663, y1: y, x2: 671, y2: y }, style: { stroke: m, lineWidth: 1.2 } });
    graphic.push({ type: "text", x: 676, y, style: { text: txt, fontSize: 10, fill: "#111", verticalAlign: "middle", fontFamily: FONT } });
  });

  graphic.push({ type: "text", x: 370, y: 1232, style: { text: "chemotherapy drug", fontSize: 13.5, fontWeight: "bold", fill: "#000", align: "center", verticalAlign: "middle", fontFamily: FONT } });

  const letters: any[] = [["A", 1, 0], ["B", 571, 0], ["C", 0, 285], ["D", 114, 285], ["E", 239, 285], ["F", 382, 287], ["G", 506, 285], ["H", 3, 578], ["I", 5, 876]];
  letters.forEach(([t, x, y]) => graphic.push({ type: "text", x, y, style: { text: t, fontSize: 24, fontFamily: SERIF, fill: "#111", verticalAlign: "top" } }));

  return {
    animation: false,
    backgroundColor: "#fff",
    textStyle: { fontFamily: FONT },
    grid, xAxis, yAxis, series, graphic,
  };
}

export default function App() {
  const ref = useRef<HTMLDivElement>(null);
  useEffect(() => {
    document.body.style.margin = "0";
    const chart = echarts.init(ref.current as HTMLDivElement, null, { renderer: "svg" });
    chart.setOption(buildOption() as any);
    return () => chart.dispose();
  }, []);
  return <div ref={ref} style={{ width: 723, height: 1241 }} />;
}
